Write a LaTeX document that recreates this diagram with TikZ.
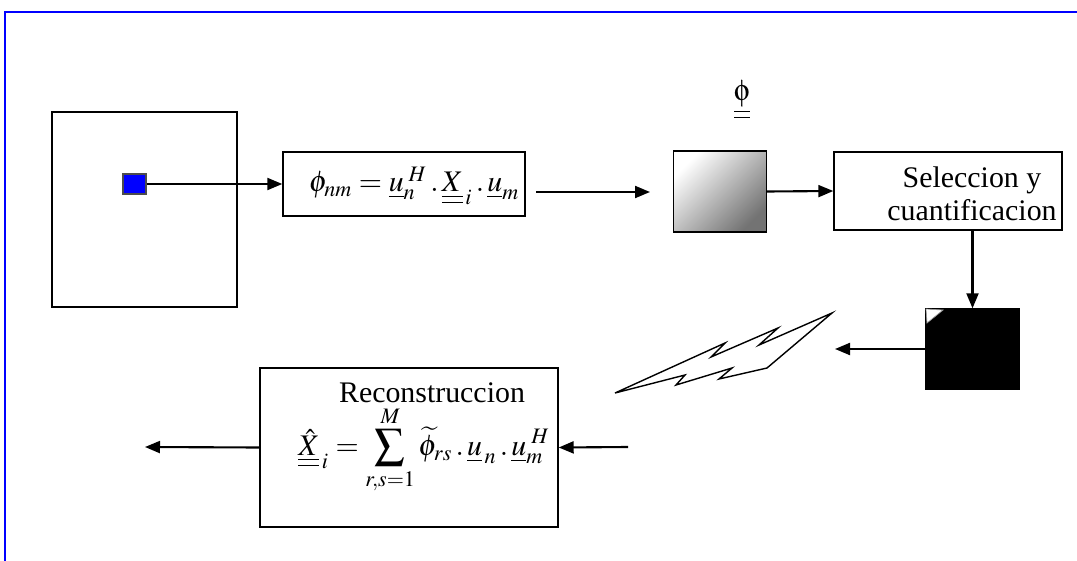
\documentclass[tikz,border=0pt]{standalone}
\usepackage{mathptmx}
\usepackage[Symbol]{upgreek}
\usepackage[no-math]{fontspec}
\setmainfont{Liberation Serif}
\usetikzlibrary{arrows.meta, positioning, calc}

\begin{document}
\begin{tikzpicture}[
  x=0.2mm, y=-0.2mm,
  font=\fontsize{17}{19}\selectfont,
  >={Triangle[length=0.3cm,width=0.24cm]},
  box/.style={draw, line width=0.8pt, inner sep=0pt},
  txt/.style={inner sep=0pt, align=center},
  arr/.style={->, line width=1.2pt}
]
  \useasboundingbox (0,0) rectangle (1077,561);
  \draw[blue, line width=1.2pt] (1077,12) -- (5,12) -- (5,561);

  \node[box, minimum width=3.7cm, minimum height=3.9cm] (img) at (144.5,209.5) {};
  \node[box, fill=blue, draw=black!70, minimum width=0.46cm, minimum height=0.4cm] (pix) at (134.5,184) {};
  \node[box, minimum width=4.84cm, minimum height=1.28cm] (trans) at (404,184) {};
  \node[txt] (transeq) at (414,186)
    {$\phi_{nm} = \underline{u}_n^{\;H}\,{.}\,\underline{\underline{X}}_{\,i}\,{.}\,\underline{u}_m$};
  \node[box, top color=white, bottom color=black!55, shading angle=45,
        minimum width=1.86cm, minimum height=1.62cm] (coef) at (720,191.5) {};
  \node[txt] (coeflbl) at (742,100) {$\underline{\underline{\upphi}}$};
  \node[box, minimum width=4.56cm, minimum height=1.56cm] (sel) at (948,191) {};
  \node[txt] (seltxt) at (972,194) {Seleccion y\\cuantificacion};
  \node[box, fill=black, minimum width=1.86cm, minimum height=1.6cm] (quant) at (972.5,349) {};
  \filldraw[fill=white, draw=black!40, line width=0.4pt] (926,309) -- (943,310) -- (927,323) -- cycle;
  \draw[line width=0.8pt, line join=miter]
    (615,393) -- (725,343) -- (711,357) -- (778,328) -- (759,345) -- (832,313)
    -- (767,368) -- (719,379) -- (732,368) -- (676,385) -- (685,375) -- cycle;
  \node[box, minimum width=5.96cm, minimum height=3.18cm] (recon) at (409,447.5) {};
  \node[txt] (recontitle) at (432,393) {Reconstruccion};
  \node[txt] (reconeq) at (424,450)
    {$\displaystyle \underline{\underline{\hat{X}}}_{\,i} = \sum_{r,s=1}^{M} \widetilde{\phi}_{rs}\,{.}\,\underline{u}_{\,n}\,{.}\,\underline{u}_m^{\;H}$};

  \coordinate (c1) at (536,192);
  \coordinate (c2) at (650,192);
  \coordinate (c3) at (835,349);
  \coordinate (c4) at (628,447);
  \coordinate (c5) at (145,447);

  \draw[arr] (pix.east) -- (trans.west);
  \draw[arr] (c1) -- (c2);
  \draw[arr] (coef.east) -- (sel.west);
  \draw[arr] (sel.south -| quant.north) -- (quant.north);
  \draw[arr] (quant.west) -- (c3);
  \draw[arr] (c4) -- (recon.east);
  \draw[arr] (recon.west) -- (c5);
\end{tikzpicture}
\end{document}
